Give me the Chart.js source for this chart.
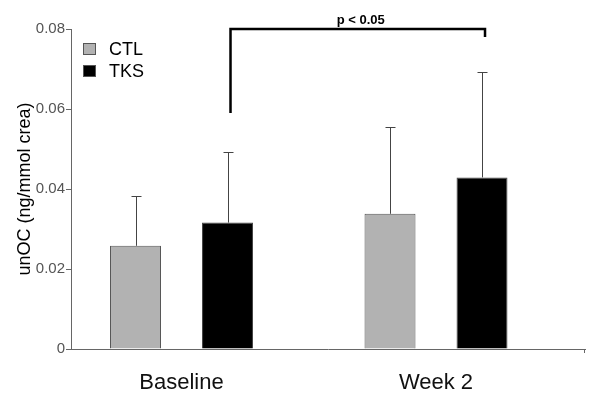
<!DOCTYPE html>
<html>
<head>
<meta charset="utf-8">
<script src="https://cdn.jsdelivr.net/npm/chart.js@4/dist/chart.umd.min.js"></script>
<style>
  html, body { margin: 0; padding: 0; background: #fff; }
  #wrap { width: 600px; height: 398px; }
</style>
</head>
<body>
<div id="wrap"><canvas id="unoc-chart" width="600" height="398"></canvas></div>
<script>
const categories = ["Baseline", "Week 2"];
const groups = ["CTL", "TKS"];
const ctlMeans = [0.0258, 0.0338];
const ctlErrors = [0.0124, 0.0218];
const tksMeans = [0.0316, 0.0429];
const tksErrors = [0.0176, 0.0264];
const yTicks = [0, 0.02, 0.04, 0.06, 0.08];
const pLabel = "p < 0.05";
// bracket: TKS baseline (leg down to 0.059) vs TKS week 2 (leg down to 0.078)
const bracketLegs = [0.059, 0.078];

const fontName = "'Liberation Sans', Arial, sans-serif";
const ctx = document.getElementById("unoc-chart").getContext("2d");

const toPoints = (vals) => vals.map((v, i) => ({ x: i + 1, y: v }));

// Error bars (upper only), bracket and in-plot legend
const extras = {
  id: "extras",
  afterDatasetsDraw(chart) {
    const c = chart.ctx;
    const y = chart.scales.y;
    const errs = [ctlErrors, tksErrors];
    const means = [ctlMeans, tksMeans];

    c.save();
    c.strokeStyle = "#444";
    c.lineWidth = 1;
    chart.data.datasets.forEach((ds, d) => {
      chart.getDatasetMeta(d).data.forEach((bar, i) => {
        const x = Math.round(bar.x) + 0.5;
        const top = y.getPixelForValue(means[d][i]);
        const tip = Math.round(y.getPixelForValue(means[d][i] + errs[d][i])) + 0.5;
        c.beginPath();
        c.moveTo(x, top);
        c.lineTo(x, tip);
        c.moveTo(x - 5, tip);
        c.lineTo(x + 5, tip);
        c.stroke();
      });
    });

    // significance bracket
    const tks = chart.getDatasetMeta(1).data;
    const x1 = tks[0].x + 3;
    const x2 = tks[1].x + 3;
    const yTop = y.getPixelForValue(0.08);
    c.strokeStyle = "#000";
    c.lineWidth = 2.5;
    c.beginPath();
    c.moveTo(x1, y.getPixelForValue(bracketLegs[0]));
    c.lineTo(x1, yTop);
    c.lineTo(x2, yTop);
    c.lineTo(x2, y.getPixelForValue(bracketLegs[1]));
    c.stroke();
    c.fillStyle = "#000";
    c.font = "bold 13px " + fontName;
    c.textAlign = "center";
    c.textBaseline = "bottom";
    c.fillText(pLabel, (x1 + x2) / 2 + 3, yTop - 2);

    // small end tick on the x axis
    const area = chart.chartArea;
    c.strokeStyle = "#666";
    c.lineWidth = 1;
    c.beginPath();
    c.moveTo(area.right - 0.5, area.bottom);
    c.lineTo(area.right - 0.5, area.bottom + 4);
    c.stroke();

    // legend
    c.font = "18px " + fontName;
    c.textAlign = "left";
    c.textBaseline = "middle";
    chart.data.datasets.forEach((ds, d) => {
      const ly = area.top + 14 + d * 22;
      c.fillStyle = ds.backgroundColor;
      c.fillRect(area.left + 12, ly, 13, 12);
      c.strokeStyle = "#555";
      c.strokeRect(area.left + 12.5, ly + 0.5, 12, 11);
      c.fillStyle = "#000";
      c.fillText(ds.label, area.left + 38, ly + 7);
    });
    c.restore();
  },
};

new Chart(ctx, {
  type: "bar",
  data: {
    datasets: [
      {
        label: groups[0],
        data: toPoints(ctlMeans),
        backgroundColor: "#b2b2b2",
        borderColor: "#555",
        borderWidth: 1,
        borderSkipped: "bottom",
      },
      {
        label: groups[1],
        data: toPoints(tksMeans),
        backgroundColor: "#000000",
        borderColor: "#444",
        borderWidth: 1,
        borderSkipped: "bottom",
      },
    ],
  },
  options: {
    responsive: false,
    animation: false,
    categoryPercentage: 0.723,
    barPercentage: 0.554,
    layout: { padding: { top: 29, right: 15, left: 0, bottom: 0 } },
    plugins: {
      legend: { display: false },
      tooltip: { enabled: false },
    },
    scales: {
      x: {
        type: "linear",
        offset: false,
        min: 0.5658,
        max: 2.5854,
        afterBuildTicks: (scale) => {
          scale.ticks = categories.map((_, i) => ({ value: i + 1 }));
        },
        afterFit: (scale) => {
          scale.height = 49;
        },
        grid: { display: false, offset: false },
        border: { color: "#666", width: 1 },
        ticks: {
          color: "#111",
          font: { family: fontName, size: 22 },
          padding: 13,
          maxRotation: 0,
          callback: (v) => categories[Math.round(v) - 1] || "",
        },
      },
      y: {
        min: 0,
        max: 0.08,
        afterBuildTicks: (scale) => {
          scale.ticks = yTicks.map((v) => ({ value: v }));
        },
        afterFit: (scale) => {
          scale.width = 71;
        },
        grid: {
          drawOnChartArea: false,
          color: "#666",
          tickLength: 5,
        },
        border: { color: "#666", width: 1 },
        ticks: {
          color: "#555",
          font: { family: fontName, size: 15 },
          padding: 1,
          callback: (v) => (v === 0 ? "0" : v.toFixed(2)),
        },
        title: {
          display: true,
          text: "unOC (ng/mmol crea)",
          color: "#000",
          font: { family: fontName, size: 18 },
          padding: { top: 14, bottom: 0 },
        },
      },
    },
  },
  plugins: [extras],
});
</script>
</body>
</html>
